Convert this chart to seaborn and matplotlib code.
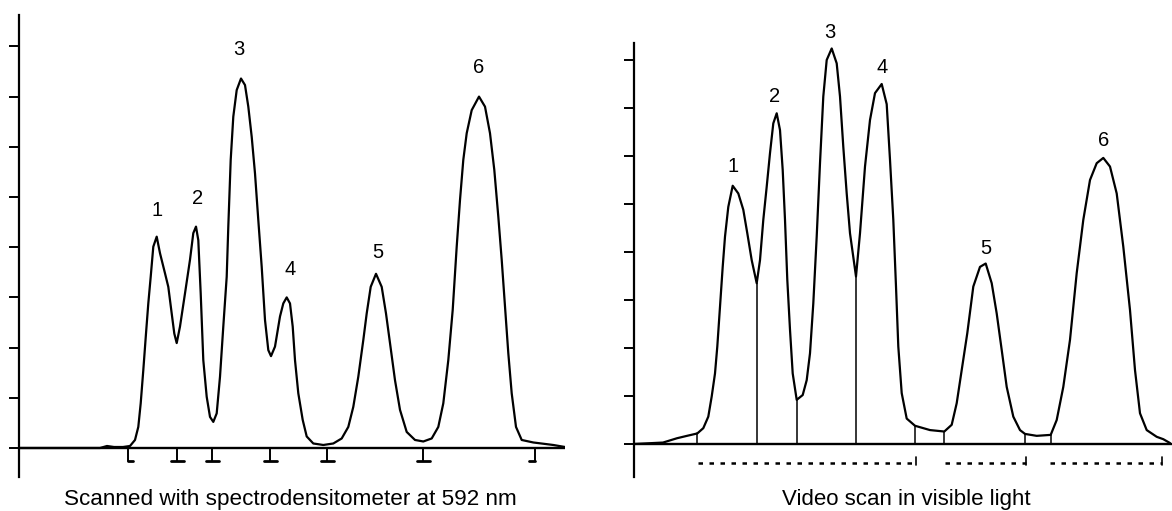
import matplotlib
matplotlib.use("Agg")
import matplotlib.pyplot as plt
import numpy as np
import pandas as pd
import seaborn as sns

# ---------------- data ----------------
# Left trace: scan position (px from y-axis) and absorbance (tick units)
left_pos = [0, 81, 88, 95, 104, 111, 116, 119.3, 121.7, 124.3, 127, 129.3, 131.7, 134.3,
            137.7, 141, 146, 149.3, 152.7, 155.3, 157.7, 161, 166, 171, 174.3, 177, 179.3,
            181.7, 184.3, 187.7, 191, 194.3, 197.7, 201, 204.3, 207.7, 209.3, 211.7, 214.3,
            217.7, 222, 226, 229.3, 232.7, 236, 239.3, 242.7, 246, 249.3, 252, 256, 261,
            264.3, 267.7, 271, 273.7, 276, 279.3, 283.7, 287.7, 294.3, 304.3, 314.3, 322.7,
            329.3, 334.3, 339.3, 344.3, 347.7, 351.7, 357, 362.7, 367, 371, 376, 381, 387.7,
            396, 404.3, 412.7, 419.3, 424.3, 429.3, 433.7, 437.7, 441, 444.3, 447.7, 452.7,
            460, 466, 471, 475.3, 479.3, 482.7, 486, 489.3, 492.7, 497, 502.7, 514.3, 534.3, 546]
left_val = [0, 0.0, 0.04, 0.02, 0.02, 0.04, 0.16, 0.42, 0.89, 1.55, 2.28, 2.88, 3.41, 4.01,
            4.21, 3.88, 3.48, 3.21, 2.68, 2.28, 2.09, 2.42, 3.08, 3.75, 4.28, 4.41, 4.14,
            3.08, 1.75, 1.02, 0.62, 0.52, 0.69, 1.42, 2.42, 3.41, 4.41, 5.74, 6.60,
            7.13, 7.36, 7.23, 6.80, 6.20, 5.47, 4.54, 3.61, 2.55, 1.95, 1.83, 2.02, 2.62,
            2.88, 3.00, 2.88, 2.42, 1.75, 1.09, 0.56, 0.23, 0.09, 0.06, 0.09, 0.19,
            0.42, 0.82, 1.42, 2.15, 2.68, 3.21, 3.47, 3.21, 2.68, 2.09, 1.35, 0.76, 0.32,
            0.16, 0.13, 0.19, 0.42, 0.89, 1.75, 2.75, 4.01, 4.94, 5.74, 6.27, 6.73,
            7.00, 6.80, 6.27, 5.54, 4.61, 3.75, 2.82, 1.89, 1.09, 0.42, 0.16, 0.11, 0.06, 0.02]

# Left peak labels
left_peak_names = ["1", "2", "3", "4", "5", "6"]
left_peak_pos = [138, 179, 220, 271, 359, 460]
left_peak_lab_y = [4.74, 4.98, 7.93, 3.55, 3.90, 7.57]

# Left integration marks below the baseline (position, kind)
left_mark_pos = [109, 158, 193, 251, 308, 404, 516]
left_mark_kind = ["[", "T", "T", "T", "T", "T", "]"]

# Right trace
right_pos = [0, 29, 43, 53, 63.3, 69.3, 74.3, 77.7, 81, 83.3, 86, 88.7, 91, 94.3, 98.7,
             104.3, 109.3, 113.3, 117.7, 122.7, 126, 129.3, 132.7, 136, 139.3, 142.7, 146,
             148.7, 151, 153.3, 156, 158.7, 162.7, 168.7, 172.7, 176, 179.3, 182.7, 186,
             189.3, 192.7, 197.7, 202.7, 206, 209.3, 212.7, 216, 222, 226, 231, 236, 241,
             247.7, 252.7, 256, 259.3, 262, 264.3, 267.7, 272.7, 281, 296, 310.3, 317.7,
             322.7, 327.7, 333.3, 339.3, 346, 351.7, 357.7, 362.7, 367.7, 372.7, 379.3, 386,
             391, 402.7, 416.7, 422.7, 429.3, 436, 442.7, 449.3, 456, 462.7, 469.3, 476,
             482.7, 489.3, 496, 501, 506, 512.7, 522.7, 529.3, 536]
right_val = [0, 0.03, 0.12, 0.17, 0.22, 0.33, 0.57, 0.99, 1.47, 2.03, 2.86, 3.69, 4.32, 4.94, 5.38,
             5.22, 4.88, 4.39, 3.83, 3.35, 3.83, 4.67, 5.36, 6.06, 6.68, 6.89, 6.54,
             5.71, 4.67, 3.42, 2.38, 1.47, 0.92, 1.02, 1.33, 1.89, 2.93, 4.32, 5.85,
             7.24, 8.0, 8.24, 7.93, 7.24, 6.19, 5.22, 4.39, 3.49, 4.39, 5.78, 6.75, 7.31,
             7.50, 7.08, 5.92, 4.67, 3.28, 2.03, 1.06, 0.53, 0.38, 0.29, 0.26, 0.40,
             0.85, 1.54, 2.31, 3.28, 3.69, 3.76, 3.35, 2.72, 1.96, 1.19, 0.57, 0.29,
             0.21, 0.17, 0.19, 0.50, 1.19, 2.17, 3.56, 4.67, 5.50, 5.85, 5.96, 5.78,
             5.22, 4.11, 2.79, 1.54, 0.64, 0.29, 0.15, 0.10, 0.02]

right_peak_names = ["1", "2", "3", "4", "5", "6"]
right_peak_pos = [99.3, 140.3, 196, 247.7, 352, 469.3]
right_peak_lab_y = [5.78, 7.25, 8.57, 7.84, 4.08, 6.33]

# Right peak dividers (position, height of the trace there)
right_div_pos = [63, 123, 163, 222, 281, 310, 391, 417]
right_div_val = [0.22, 3.35, 0.92, 3.49, 0.38, 0.26, 0.21, 0.19]

# Right integration ranges (dashed lines below the baseline)
right_range_start = [63.8, 311, 416]
right_range_end = [282.4, 391.8, 528]

left_caption = "Scanned with spectrodensitometer at 592 nm"
right_caption = "Video scan in visible light"

# ---------------- drawing ----------------
sns.set_theme(style="white")
plt.rcParams["font.family"] = ["Liberation Sans", "DejaVu Sans"]

W, H = 1172, 511
fig = plt.figure(figsize=(W / 100, H / 100), dpi=100)

ax1 = fig.add_axes([19 / W, 1 - 477 / H, (565 - 19) / W, (477 - 15) / H])
ax1.set_xlim(0, 546)
ax1.set_ylim(-(477 - 448) / 50.2, (448 - 15) / 50.2)

ax2 = fig.add_axes([634 / W, 1 - 477 / H, (1172 - 634) / W, (477 - 43) / H])
ax2.set_xlim(0, 538)
ax2.set_ylim(-(477 - 444) / 48.0, (444 - 43) / 48.0)

for ax in (ax1, ax2):
    for s in ("top", "right", "bottom"):
        ax.spines[s].set_visible(False)
    ax.spines["left"].set_color("black")
    ax.spines["left"].set_linewidth(1.6)
    ax.set_yticks(range(0, 9))
    ax.set_yticklabels([])
    ax.set_xticks([])
    ax.tick_params(axis="y", direction="out", length=7.5, width=1.4, color="black", left=True)
    ax.axhline(0, color="black", lw=1.7, zorder=2)
    ax.patch.set_alpha(0)

df_left = pd.DataFrame({"pos": left_pos, "val": left_val})
df_right = pd.DataFrame({"pos": right_pos, "val": right_val})
sns.lineplot(data=df_left, x="pos", y="val", ax=ax1, color="black", lw=1.6,
             estimator=None, sort=False, zorder=3)
sns.lineplot(data=df_right, x="pos", y="val", ax=ax2, color="black", lw=1.6,
             estimator=None, sort=False, zorder=3)
for ax in (ax1, ax2):
    for ln in ax.get_lines():
        ln.set_solid_joinstyle("round")
    ax.set_xlabel("")
    ax.set_ylabel("")

# peak labels
for name, p, yl in zip(left_peak_names, left_peak_pos, left_peak_lab_y):
    ax1.text(p, yl, name, ha="center", va="center", fontsize=14.5, color="black", clip_on=False)
for name, p, yl in zip(right_peak_names, right_peak_pos, right_peak_lab_y):
    ax2.text(p, yl, name, ha="center", va="center", fontsize=14.5, color="black", clip_on=False)

# left integration marks
drop = -0.26
for p, k in zip(left_mark_pos, left_mark_kind):
    ax1.plot([p, p], [0, drop], color="black", lw=1.4, clip_on=False)
    if k == "T":
        ax1.plot([p - 6.5, p + 6.5], [drop, drop], color="black", lw=2.0, clip_on=False)
    elif k == "[":
        ax1.plot([p, p + 5], [drop, drop], color="black", lw=2.0, clip_on=False)
    else:
        ax1.plot([p - 6, p], [drop, drop], color="black", lw=2.0, clip_on=False)

# right dividers
for p, v in zip(right_div_pos, right_div_val):
    ax2.plot([p, p], [0, v], color="black", lw=1.1, zorder=2)

# right dashed ranges
for a, b in zip(right_range_start, right_range_end):
    ax2.plot([a, b], [-0.40, -0.40], color="black", lw=1.8, ls=(0, (1.8, 2.6)), clip_on=False)
    ax2.plot([b, b], [-0.43, -0.28], color="black", lw=1.2, clip_on=False)

fig.text(290 / W, 1 - 500 / H, left_caption, ha="center", va="center", fontsize=16.2, color="black")
fig.text(906 / W, 1 - 500 / H, right_caption, ha="center", va="center", fontsize=16.0, color="black")

fig.savefig("out.png", dpi=100, facecolor="white")
